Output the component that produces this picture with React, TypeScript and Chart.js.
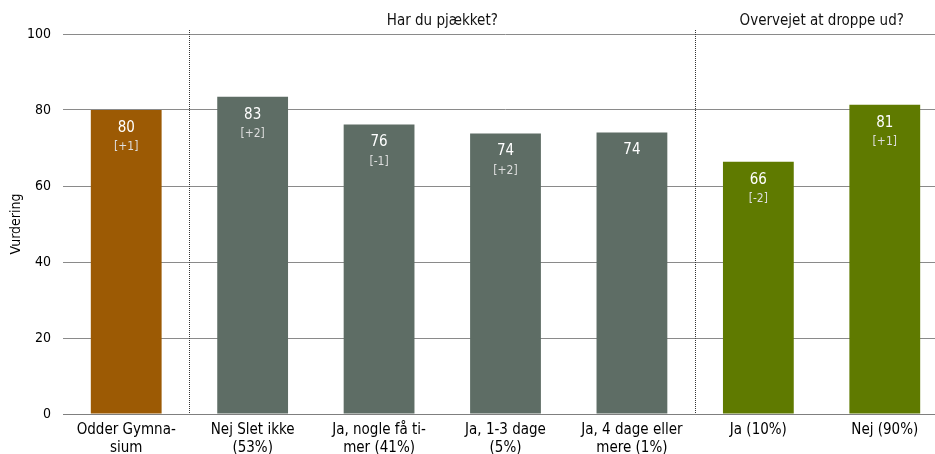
import React, { useEffect, useRef } from "react";
import { Chart, registerables } from "chart.js";

Chart.register(...registerables);

const categories: string[][] = [
  ["Odder Gymna-", "sium"],
  ["Nej Slet ikke", "(53%)"],
  ["Ja, nogle få ti-", "mer (41%)"],
  ["Ja, 1-3 dage", "(5%)"],
  ["Ja, 4 dage eller", "mere (1%)"],
  ["Ja (10%)"],
  ["Nej (90%)"],
];
const values = [80.0, 83.5, 76.2, 73.8, 74.1, 66.4, 81.4];
const valueLabels = ["80", "83", "76", "74", "74", "66", "81"];
const changeLabels = ["[+1]", "[+2]", "[-1]", "[+2]", "", "[-2]", "[+1]"];
const barColors = ["#9C5A04", "#5E6D65", "#5E6D65", "#5E6D65", "#5E6D65", "#5F7A00", "#5F7A00"];
const groupLabels = ["Har du pjækket?", "Overvejet at droppe ud?"];
const groupStarts = [1, 5];
const groupEnds = [4, 6];
const yTitle = "Vurdering";

const FONT = "'DejaVu Sans Condensed', 'DejaVu Sans', sans-serif";

const overlayPlugin = {
  id: "overlay",
  afterDatasetsDraw(chart: any) {
    const { ctx, chartArea } = chart;
    const x = chart.scales.x;
    const meta = chart.getDatasetMeta(0);
    const half = (x.getPixelForTick(1) - x.getPixelForTick(0)) / 2;
    ctx.save();
    meta.data.forEach((bar: any, i: number) => {
      ctx.textAlign = "center";
      ctx.textBaseline = "middle";
      ctx.fillStyle = "#ffffff";
      ctx.font = `15px ${FONT}`;
      ctx.fillText(valueLabels[i], bar.x, bar.y + 18);
      if (changeLabels[i]) {
        ctx.fillStyle = "#dedede";
        ctx.font = `12px ${FONT}`;
        ctx.fillText(changeLabels[i], bar.x, bar.y + 37);
      }
    });
    groupStarts.forEach((s, gi) => {
      const bx = Math.round(x.getPixelForTick(s) - half) + 0.5;
      ctx.strokeStyle = "#333";
      ctx.lineWidth = 1;
      ctx.setLineDash([1, 1]);
      ctx.beginPath();
      ctx.moveTo(bx, 30);
      ctx.lineTo(bx, chartArea.bottom);
      ctx.stroke();
      ctx.setLineDash([]);
      const ex = groupEnds[gi] + 1 < categories.length
        ? x.getPixelForTick(groupEnds[gi]) + half
        : chartArea.right;
      ctx.fillStyle = "#111";
      ctx.font = `15px ${FONT}`;
      ctx.textAlign = "center";
      ctx.textBaseline = "middle";
      ctx.fillText(groupLabels[gi], (bx + ex) / 2, 21);
    });
    ctx.restore();
  },
};

export default function App() {
  const ref = useRef<HTMLCanvasElement>(null);
  useEffect(() => {
    if (!ref.current) return;
    Chart.defaults.font.family = FONT;
    const chart = new Chart(ref.current, {
      type: "bar",
      data: {
        labels: categories,
        datasets: [
          {
            data: values,
            backgroundColor: barColors,
            borderWidth: 0,
            barPercentage: 1,
            categoryPercentage: 0.56,
          },
        ],
      },
      options: {
        responsive: false,
        animation: false,
        devicePixelRatio: 1,
        layout: { padding: { top: 34, left: 0, right: 0, bottom: 0 } },
        plugins: {
          legend: { display: false },
          tooltip: { enabled: false },
        },
        scales: {
          x: {
            grid: { display: false, drawTicks: false },
            border: { display: true, color: "#7f7f7f", width: 1 },
            ticks: {
              color: "#000",
              font: { size: 15, family: FONT, lineHeight: 1.2 },
              padding: 7,
              maxRotation: 0,
              autoSkip: false,
            },
            afterFit(scale: any) {
              scale.height = 40;
            },
          },
          y: {
            min: 0,
            max: 100,
            grid: { color: "#8a8a8a", drawTicks: false, lineWidth: 1 },
            border: { display: false },
            ticks: {
              stepSize: 20,
              color: "#000",
              font: { size: 14, family: FONT },
              padding: 12,
            },
            title: {
              display: true,
              text: yTitle,
              color: "#000",
              font: { size: 14, family: FONT },
              padding: { top: 8, bottom: 0 },
            },
            afterFit(scale: any) {
              scale.width = 63;
            },
          },
        },
      },
      plugins: [overlayPlugin],
    });
    return () => chart.destroy();
  }, []);
  return (
    <div
      style={{
        position: "absolute",
        left: 0,
        top: 0,
        width: 935,
        height: 454,
        overflow: "hidden",
        background: "#fff",
      }}
    >
      <canvas ref={ref} width={948} height={454} style={{ width: 948, height: 454, display: "block" }} />
    </div>
  );
}
